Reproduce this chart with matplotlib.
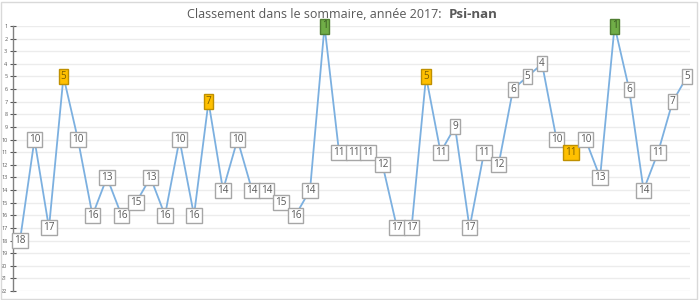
import matplotlib
matplotlib.use("Agg")
import matplotlib.pyplot as plt
from matplotlib.patches import Rectangle

ranks = [18, 10, 17, 5, 10, 16, 13, 16, 15, 13, 16, 10, 16, 7, 14, 10, 14, 14, 15, 16, 14, 1,
         11, 11, 11, 12, 17, 17, 5, 11, 9, 17, 11, 12, 6, 5, 4, 10, 11, 10, 13, 1, 6, 14, 11, 7, 5]
highlight_orange = [3, 13, 28, 38]
highlight_green = [21, 41]
y_ticks = list(range(1, 23))
title_main = "Classement dans le sommaire, année 2017: "
title_name = "Psi-nan"

plt.rcParams['font.family'] = ['Open Sans', 'DejaVu Sans']

fig = plt.figure(figsize=(7, 3), dpi=100)
fig.patch.set_facecolor('white')
fig.add_artist(Rectangle((0.001, 0.004), 0.995, 0.99, transform=fig.transFigure,
                         fill=False, edgecolor='#d9d9d9', linewidth=1))

ax = fig.add_axes([13/700, 1 - 291/300, (690 - 13)/700, (291 - 26)/300])
x = list(range(len(ranks)))
ax.plot(x, ranks, color='#7cb0e0', linewidth=1.3, zorder=2)

for i, r in enumerate(ranks):
    if i in highlight_green:
        fc, ec, tc = '#70ad47', '#507e32', '#3a5a22'
    elif i in highlight_orange:
        fc, ec, tc = '#ffc000', '#bf9000', '#7f6000'
    else:
        fc, ec, tc = 'white', '#a6a6a6', '#595959'
    ax.text(i, r, str(r), ha='center', va='center', fontsize=7.2, color=tc, zorder=3,
            bbox=dict(boxstyle='square,pad=0.2', facecolor=fc, edgecolor=ec, linewidth=1))

ax.set_ylim(22, 1)
ax.set_xlim(-0.48, len(ranks) - 1 + 0.2)
ax.set_yticks(y_ticks)
ax.set_yticklabels([str(v) for v in y_ticks])
ax.tick_params(axis='y', labelsize=4, colors='#595959', direction='inout', length=4, width=0.8, pad=2)
ax.set_xticks([])
ax.grid(axis='y', color='#ececec', linewidth=1)
ax.set_axisbelow(True)
for s in ['top', 'right', 'bottom']:
    ax.spines[s].set_visible(False)
ax.spines['left'].set_color('#808080')
ax.spines['left'].set_linewidth(1)

fig.text(445/700, 1 - 18/300, title_main, ha='right', va='baseline', fontsize=9, color='#595959')
fig.text(449/700, 1 - 18/300, title_name, ha='left', va='baseline', fontsize=9.5, color='#595959', fontweight='bold')

fig.savefig('out.png', dpi=100)
